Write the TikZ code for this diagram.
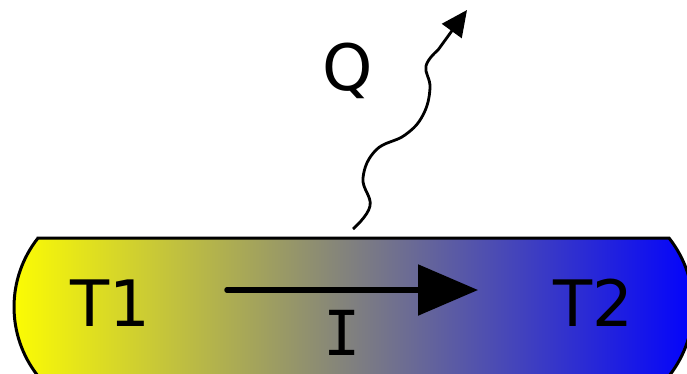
\documentclass[tikz,border=0pt]{standalone}
\usepackage{fontspec}
\setmainfont{DejaVu Sans}
\newfontfamily\ifont{DejaVu Sans Mono}
\usetikzlibrary{arrows.meta}
\definecolor{barblue}{RGB}{0,0,255}
\definecolor{baryellow}{RGB}{255,255,0}
\tikzset{
  lbl/.style={inner sep=0pt, font=\fontsize{64}{64}\selectfont},
  barline/.style={line width=3pt, draw=black},
  current/.style={line width=5.5pt, line cap=round, -{Triangle[length=60pt,width=50pt]}},
  heat/.style={line width=2.8pt, -{Triangle[length=26pt,width=24pt]}}
}
\begin{document}
\begin{tikzpicture}[x=1pt,y=1pt,yscale=-1]
\useasboundingbox (0,0) rectangle (687,373);
\clip (0,0) rectangle (687,373);
% bar
\shade[left color=baryellow, right color=barblue, barline]
  (38,238) -- (669,238) arc[start angle=-38.35, end angle=38.35, radius=111.2]
  -- (38,376) arc[start angle=141.65, end angle=218.35, radius=111.2] -- cycle;
% labels
\node[lbl] (t1) at (110,303) {T1};
\node[lbl] (t2) at (593,303) {T2};
\node[lbl, font=\ifont\fontsize{62}{62}\selectfont] (i) at (342,333) {I};
\node[lbl] (q) at (348,71) {Q};
% current arrow
\coordinate (ia) at (227,290);
\coordinate (ib) at (478,290);
\draw[current] (ia) -- (ib);
% heat wave
\coordinate (qs) at (353,229);
\coordinate (qe) at (467,10);
\draw[heat] plot[smooth, tension=0.7] coordinates {(qs) (370,206) (363,178) (376,150) (405,135) (423,115) (430,88) (426,66) (438,50)} -- (qe);
\end{tikzpicture}
\end{document}
